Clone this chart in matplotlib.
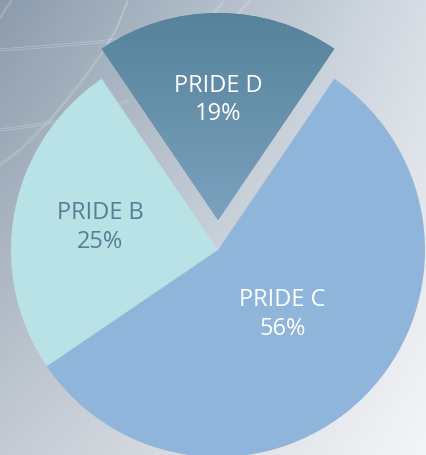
import matplotlib
matplotlib.use("Agg")
import matplotlib.pyplot as plt
import numpy as np
from matplotlib.colors import LinearSegmentedColormap

labels = ["PRIDE B", "PRIDE C", "PRIDE D"]
shares = [25, 56, 19]
colors = ["#b9e2e6", "#8fb5da", "#5f8ba4"]
text_colors = ["#587e94", "white", "white"]
label_dist = [0.58, 0.44, 0.58]

W, H = 427, 455
fig = plt.figure(figsize=(W / 100, H / 100), dpi=100)

# background gradient (top-left dark -> bottom-right light)
bg = fig.add_axes([0, 0, 1, 1])
corners = np.array([[[0x8c, 0x9c, 0xad], [0xd6, 0xdd, 0xe4]],
                    [[0xc4, 0xcb, 0xd3], [0xf4, 0xf5, 0xf7]]]) / 255.0
yy, xx = np.mgrid[0:1:200j, 0:1:200j]
img = (corners[0, 0] * ((1 - xx) * (1 - yy))[..., None]
       + corners[0, 1] * (xx * (1 - yy))[..., None]
       + corners[1, 0] * ((1 - xx) * yy)[..., None]
       + corners[1, 1] * (xx * yy)[..., None])
bg.imshow(img, extent=[0, W, H, 0], aspect="auto")
bg.set_xlim(0, W)
bg.set_ylim(H, 0)
bg.axis("off")

# faint globe lines in the corner
def dline(pts):
    p = np.array(pts, dtype=float)
    t = np.linspace(0, 1, len(p))
    ts = np.linspace(0, 1, 60)
    x = np.interp(ts, t, p[:, 0])
    y = np.interp(ts, t, p[:, 1])
    for off in (-1.1, 1.1):
        bg.plot(x, y + off, color="white", lw=0.5, alpha=0.3)

dline([(0, 50), (40, 47), (100, 42), (130, 38)])
dline([(0, 130), (30, 126), (60, 121)])
dline([(128, 0), (116, 30), (100, 56), (75, 90), (50, 120), (20, 150), (0, 165)])
dline([(12, 0), (5, 10), (0, 18)])
dline([(225, 0), (218, 8), (212, 15)])
dline([(250, 0), (243, 8), (238, 14)])
dline([(118, 105), (128, 100)])

ax = fig.add_axes([0, 0, 1, 1])
cx, cy, r = 218, H - 250, 207
pull = 30  # offset of the detached slice, in pixels
wedges, _ = ax.pie(shares, colors=colors, explode=[0, 0, pull],
                   startangle=124.2, counterclock=True, center=(cx, cy),
                   radius=r, wedgeprops=dict(linewidth=0), frame=True)
ax.set_xlim(0, W)
ax.set_ylim(0, H)
ax.set_aspect("equal")
ax.axis("off")

# gradient fill on the detached slice
wd = wedges[2]
cmap = LinearSegmentedColormap.from_list("d", ["#7ca2bf", "#55829a"])
grad = np.linspace(0, 1, 256).reshape(-1, 1)
gi = ax.imshow(grad, cmap=cmap, extent=[100, 340, H - 225, H - 10],
               origin="lower", aspect="auto", zorder=wd.get_zorder() + 0.1)
gi.set_clip_path(wd)
ax.set_xlim(0, W)
ax.set_ylim(0, H)

for w, lab, pct, tc, d in zip(wedges, labels, shares, text_colors, label_dist):
    mid = np.deg2rad((w.theta1 + w.theta2) / 2)
    x0, y0 = w.center
    ax.text(x0 + d * r * np.cos(mid), y0 + d * r * np.sin(mid),
            "%s\n%d%%" % (lab, pct), ha="center", va="center",
            color=tc, fontsize=17, family="Open Sans", linespacing=1.25,
            zorder=5)

fig.savefig("out.png", dpi=100)
